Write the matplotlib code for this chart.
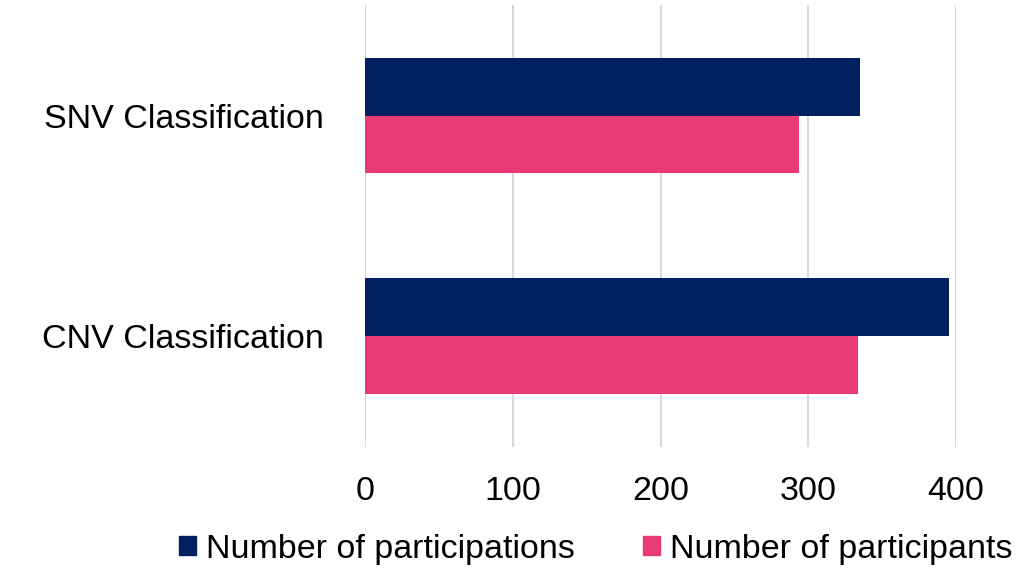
import numpy as np
import matplotlib
matplotlib.use("Agg")
import matplotlib.pyplot as plt
from matplotlib.patches import Patch

plt.rcParams['font.family'] = ['Liberation Sans', 'DejaVu Sans']

# data (bottom to top)
categories = ["CNV Classification", "SNV Classification"]
participations = [395, 335]
participants = [334, 294]
series_names = ["Number of participations", "Number of participants"]
colors = ["#002060", "#E83A73"]

fig = plt.figure(figsize=(10.17, 5.72), dpi=100)
ax = fig.add_axes([0.359, 0.219, 0.581, 0.772])

y = np.arange(len(categories))
h = 0.262
ax.barh(y + h / 2, participations, height=h, color=colors[0], zorder=3)
ax.barh(y - h / 2, participants, height=h, color=colors[1], zorder=3)

ax.set_xlim(0, 400)
ax.set_ylim(-0.5, 1.5)
ax.set_xticks([0, 100, 200, 300, 400])
ax.set_yticks(y)
ax.set_yticklabels(categories)
ax.tick_params(axis='both', length=0, labelsize=24.5, colors='black')
ax.tick_params(axis='x', pad=21)
ax.tick_params(axis='y', pad=30)
ax.grid(axis='x', color='#D9D9D9', linewidth=1.5, zorder=0)
for s in ax.spines.values():
    s.set_visible(False)

handles = [Patch(color=c) for c in colors]
fig.legend(handles, series_names, loc='center', bbox_to_anchor=(0.586, 0.04),
           ncol=2, frameon=False, fontsize=24.5, handlelength=0.5, handleheight=0.5,
           handletextpad=0.3, columnspacing=2.0)

fig.savefig("out.png", dpi=100)
